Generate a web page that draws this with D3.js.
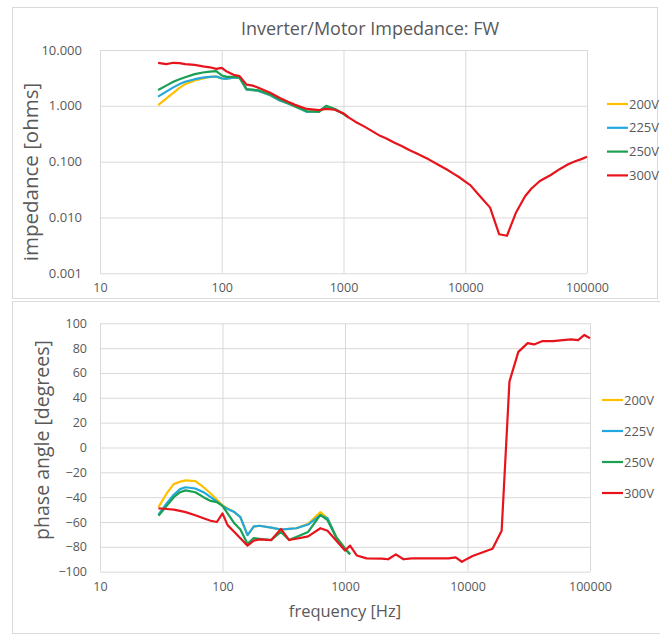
<!DOCTYPE html>
<html>
<head>
<meta charset="utf-8">
<script src="https://cdnjs.cloudflare.com/ajax/libs/d3/7.8.5/d3.min.js"></script>
<style>
  body { margin: 0; background: #fff; }
  text { font-family: "Open Sans", sans-serif; fill: #595959; }
</style>
</head>
<body>
<div class="canvas"></div>
<script>
// series names and colours
const voltages = ['200V', '225V', '250V', '300V'];
const colors = ['#FFC000', '#22A8DE', '#1AA052', '#E8141C'];

// frequencies [Hz]: low range shared by all, high range only 300V
const freqLow = [30, 35, 40, 45, 50, 60, 70, 80, 90, 100, 110, 125, 140, 160, 180, 200,
  250, 300, 350, 400, 500, 630, 720, 850, 1000, 1100];
const freqHigh = [1250, 1500, 2000, 2250, 2600, 3000, 3500, 4000, 5000, 6000, 7000, 8000,
  9000, 10000, 11000, 13000, 16000, 19000, 22000, 26000, 31000, 35000, 41000, 50000,
  60000, 70000, 80000, 90000, 100000];

// impedance [ohms]
const imp200 = [1.03, 1.35, 1.7, 2.1, 2.45, 2.85, 3.1, 3.3, 3.35, 3.1, 3.05, 3.2, 3.2, 1.95,
  1.9, 1.85, 1.55, 1.25, 1.1, 0.97, 0.78, 0.8, 0.98, 0.86, 0.72, 0.62];
const imp225 = [1.46, 1.8, 2.14, 2.45, 2.7, 3.0, 3.2, 3.3, 3.35, 3.1, 3.05, 3.2, 3.2, 1.95,
  1.9, 1.85, 1.55, 1.25, 1.1, 0.97, 0.78, 0.8, 0.98, 0.86, 0.72, 0.62];
const imp250 = [1.92, 2.3, 2.7, 3.0, 3.25, 3.7, 3.95, 4.1, 4.2, 3.5, 3.3, 3.3, 3.2, 2.0,
  1.95, 1.9, 1.6, 1.28, 1.12, 0.98, 0.8, 0.78, 1.0, 0.88, 0.72, 0.62];
const imp300 = [5.9, 5.6, 5.9, 5.8, 5.6, 5.4, 5.1, 4.9, 4.6, 4.8, 4.1, 3.6, 3.4, 2.4,
  2.3, 2.1, 1.72, 1.38, 1.18, 1.04, 0.88, 0.84, 0.88, 0.85, 0.73, 0.62,
  0.52, 0.42, 0.29, 0.26, 0.22, 0.19, 0.16, 0.14, 0.11, 0.088, 0.073, 0.061,
  0.052, 0.044, 0.038, 0.025, 0.015, 0.005, 0.0047, 0.012, 0.024, 0.033, 0.045, 0.057,
  0.074, 0.09, 0.102, 0.111, 0.122];

// phase angle [degrees]
const ph200 = [-48, -37, -29.5, -27.5, -26.5, -27, -32, -37, -42, -46.5, -49, -52, -56, -70.5,
  -64, -63, -64.5, -66, -65.5, -65, -61.5, -52, -57, -72, -81, -86];
const ph225 = [-54, -45, -38, -33.5, -32, -33, -36, -40, -43.5, -47, -49.5, -52, -56, -70.5,
  -63.5, -63, -64.5, -66, -65.5, -65, -62, -54.5, -57, -72.5, -81.5, -86];
const ph250 = [-55, -47, -40, -36, -34.5, -36, -40, -43, -44, -47, -53, -61, -66, -77.5,
  -73, -73.5, -74.5, -68, -74.5, -72, -68, -54.3, -58.5, -72.6, -81.5, -86];
const ph300 = [-49, -49.5, -50, -51, -52, -54.5, -57, -59, -60, -53, -62.5, -68, -73, -79,
  -75, -74, -74.5, -65.5, -74.5, -73.5, -71.5, -65, -67, -75, -83, -79,
  -87, -89.3, -89.5, -90, -86, -90, -89.3, -89.3, -89.3, -89.3, -89.3, -88.5,
  -92, -89.5, -87.4, -84.7, -81.5, -67, 53, 77, 84, 83, 85.7, 85.7,
  86.5, 87, 86.5, 90.6, 88];

// tick values
const freqTicks = [10, 100, 1000, 10000, 100000];
const impTicks = [0.001, 0.01, 0.1, 1, 10];
const phaseTicks = [-100, -80, -60, -40, -20, 0, 20, 40, 60, 80, 100];

const freqAll = freqLow.concat(freqHigh);
const impSeries = [imp200, imp225, imp250, imp300];
const phSeries = [ph200, ph225, ph250, ph300];
const freqOf = i => (i === 3 ? freqAll : freqLow);

const svg = d3.select('.canvas')
  .append('svg')
    .attr('width', 660)
    .attr('height', 635);

// chart area boxes
svg.append('rect').attr('x', 12.5).attr('y', 7.5).attr('width', 645).attr('height', 291)
  .attr('fill', 'none').attr('stroke', '#d9d9d9');
svg.append('rect').attr('x', 12.5).attr('y', 301.5).attr('width', 660).attr('height', 332)
  .attr('fill', 'none').attr('stroke', '#d9d9d9');

function drawPanel(opt) {
  const x = d3.scaleLog().domain([10, 100000]).range([opt.left, opt.right]);
  const y = opt.y;
  const g = svg.append('g');

  // gridlines
  const gx = g.append('g').attr('transform', `translate(0, ${opt.bottom})`)
    .call(d3.axisBottom(x).tickValues(freqTicks).tickSize(-(opt.bottom - opt.top)).tickFormat(''));
  const gy = g.append('g').attr('transform', `translate(${opt.left}, 0)`)
    .call(d3.axisLeft(y).tickValues(opt.yTicks).tickSize(-(opt.right - opt.left)).tickFormat(''));
  [gx, gy].forEach(a => {
    a.select('.domain').remove();
    a.selectAll('line').attr('stroke', '#d9d9d9').attr('stroke-width', 1);
  });

  // tick labels
  const lx = g.append('g').attr('transform', `translate(0, ${opt.bottom})`)
    .call(d3.axisBottom(x).tickValues(freqTicks).tickSize(0).tickPadding(opt.xPad).tickFormat(d3.format('d')));
  const ly = g.append('g').attr('transform', `translate(${opt.left}, 0)`)
    .call(d3.axisLeft(y).tickValues(opt.yTicks).tickSize(0).tickPadding(opt.yPad).tickFormat(opt.yFormat));
  [lx, ly].forEach(a => {
    a.select('.domain').remove();
    a.selectAll('text').attr('fill', '#595959').style('font-family', '"Open Sans", sans-serif');
  });
  lx.selectAll('text').style('font-size', '12.5px');
  ly.selectAll('text').style('font-size', opt.yFont);

  // lines
  const line = d3.line()
    .x(d => x(d[0]))
    .y(d => y(d[1]));
  opt.series.forEach((vals, i) => {
    const pts = freqOf(i).map((f, j) => [f, vals[j]]);
    g.append('path')
      .attr('d', line(pts))
      .attr('fill', 'none')
      .attr('stroke', colors[i])
      .attr('stroke-width', 2.2)
      .attr('stroke-linejoin', 'round');
  });

  // legend
  const leg = g.selectAll('.leg').data(voltages).enter().append('g')
    .attr('transform', (d, i) => `translate(${opt.legX}, ${opt.legY + i * opt.legStep})`);
  leg.append('line').attr('x1', 0).attr('x2', 21).attr('y1', 0).attr('y2', 0)
    .attr('stroke', (d, i) => colors[i]).attr('stroke-width', 2.2);
  leg.append('text').attr('x', 22).attr('y', 4.5).style('font-size', '13px').text(d => d);

  // y title
  g.append('text')
    .attr('transform', `translate(${opt.titleX}, ${opt.titleY}) rotate(-90)`)
    .attr('text-anchor', 'middle')
    .style('font-size', opt.titleFont)
    .text(opt.yTitle);
}

// top: impedance
drawPanel({
  left: 100, right: 587, top: 50, bottom: 273.3,
  y: d3.scaleLog().domain([0.001, 10]).range([273.3, 50]),
  yTicks: impTicks, yFormat: d3.format('.3f'), yPad: 18, xPad: 10, yFont: '13px',
  series: impSeries,
  legX: 607, legY: 104, legStep: 23.8,
  yTitle: 'impedance [ohms]', titleX: 38, titleY: 172, titleFont: '20.5px'
});

// bottom: phase
drawPanel({
  left: 100, right: 590, top: 323.3, bottom: 571.7,
  y: d3.scaleLinear().domain([-100, 100]).range([571.7, 323.3]),
  yTicks: phaseTicks, yFormat: d3.format('d'), yPad: 13, xPad: 10, yFont: '12.5px',
  series: phSeries,
  legX: 602, legY: 400, legStep: 31,
  yTitle: 'phase angle [degrees]', titleX: 49, titleY: 440, titleFont: '19.5px'
});

// chart title
svg.append('text')
  .attr('x', 370).attr('y', 35)
  .attr('text-anchor', 'middle')
  .style('font-size', '18px')
  .text('Inverter/Motor Impedance: FW');

// x axis title
svg.append('text')
  .attr('x', 345).attr('y', 617)
  .attr('text-anchor', 'middle')
  .style('font-size', '16.5px')
  .text('frequency [Hz]');
</script>
</body>
</html>
